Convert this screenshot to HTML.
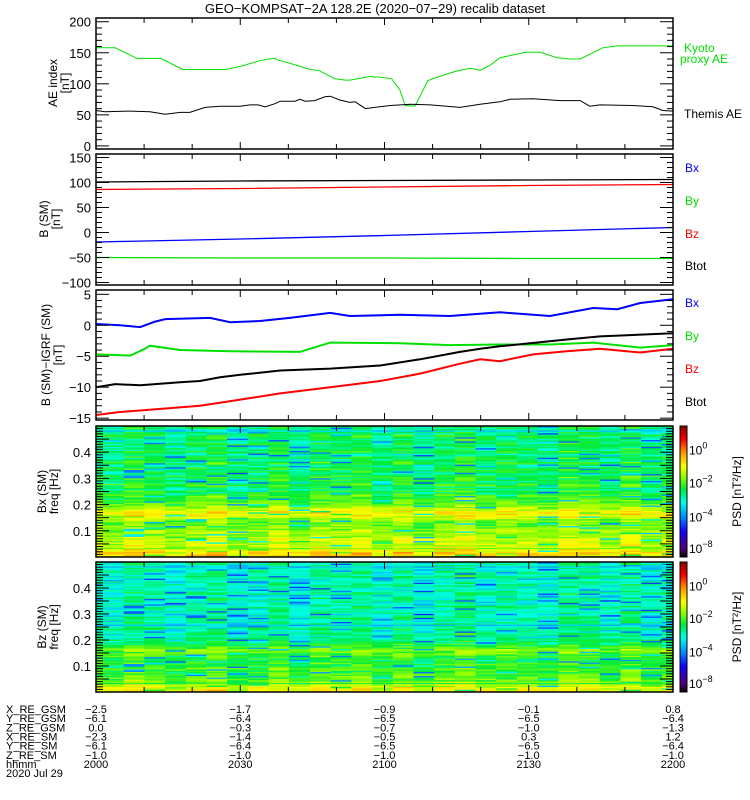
<!DOCTYPE html>
<html><head><meta charset="utf-8"><style>
html,body{margin:0;padding:0;background:#fff}
svg{display:block;font-family:"Liberation Sans",sans-serif}
</style></head><body>
<svg id="chart" width="750" height="800" viewBox="0 0 750 800" xmlns="http://www.w3.org/2000/svg">
<defs><clipPath id="plotclip"><rect x="96" y="0" width="577" height="800"/></clipPath></defs>
<rect width="750" height="800" fill="#fff"/>
<text x="375" y="13" text-anchor="middle" font-size="13">GEO−KOMPSAT−2A 128.2E (2020−07−29) recalib dataset</text>
<g id="layer"></g>
</svg>
<script>
// ---- data ----
const aeKyotoT = [0,4,8.5,13.5,18,27,30,34,36,37,38,42.5,44.5,46.5,49.7,51.8,52.8,55,57,58,59,61.5,63.2,64.3,66.3,67.4,69,71.5,74.7,77.8,79.9,82,84,89.6,92.3,95.9,98.6,100.7,105.4,108.4,120];
const aeKyotoV = [158,158,141,141,123,123,128,137,140,141,138,128,123,121,108,106,106,109,112,111,111,108,90,65,64,80,105,112,120,125,122,130,142,151,151,142,140,140,158,161,161];
const aeThemisT = [0,1.9,7.1,11.2,14.4,17.5,19.5,22.7,25.8,30,32,33.7,35.2,37.2,38.3,41.4,42.4,43.5,45.5,47.6,48.7,50.7,52.8,53.9,56,58,61.2,65.4,69.5,75.7,79.9,84,86.1,90.9,96.5,100.7,102.7,104.8,111.6,115.8,117.9,120];
const aeThemisV = [57,55,56,55,51,54,54,62,64,64,66,66,63,68,72,72,75,72,73,79,80,74,70,71,60,62,65,67,66,62,67,71,75,76,73,73,64,66,65,63,57,56];
const bT = [0,30,60,90,120];
const bTot = [101,103,104,105,106];
const bRed = [86,88,91,94,96];
const bBlue = [-19,-13,-6,2,10];
const bGreen = [-50,-51,-51,-52,-52];
const dBlueT = [0,5,9.2,12.3,14.4,23.7,27.9,34.1,40.3,48.7,52.8,63.2,73.6,84,94.4,103.4,108.4,113.2,120];
const dBlueV = [0.2,0,-0.3,0.6,1.0,1.2,0.5,0.7,1.2,2.0,1.5,1.7,1.5,2.1,1.5,2.8,2.6,3.6,4.2];
const dGreenT = [0,7.1,10.2,11.2,17.5,27.9,42.4,48.7,63.2,73.6,84,94.4,103.4,113.2,120];
const dGreenV = [-4.7,-4.9,-3.8,-3.3,-4.0,-4.2,-4.3,-2.8,-2.9,-3.2,-3.1,-3.1,-2.8,-3.6,-3.2];
const dBlackT = [0,4,9.2,17.5,21.6,25.8,30,38.3,48.7,59.1,67.4,75.7,79.9,84,97.9,104.8,120];
const dBlackV = [-10,-9.5,-9.7,-9.2,-9.0,-8.4,-8.0,-7.3,-7.0,-6.5,-5.5,-4.3,-3.8,-3.4,-2.3,-1.8,-1.3];
const dRedT = [0,5,13.5,21.6,30,38.3,48.7,59.1,67.4,75.7,79.9,84,90.9,97.9,104.8,113.2,120];
const dRedV = [-14.5,-14,-13.5,-13,-12,-11,-10,-9,-7.8,-6.2,-5.5,-5.8,-4.7,-4.2,-3.8,-4.4,-3.8];
const bxProfile = [-0.8,-0.7,-1.0,-1.2,-1.3,-1.4,-1.3,-1.5,-1.6,-1.5,-1.7,-1.8,-1.9,-1.7,-1.3,-1.0,-0.9,-1.3,-1.6,-1.9,-2.0,-2.2,-2.1,-2.4,-2.3,-2.5,-2.2,-2.6,-2.4,-2.3,-2.7,-2.5,-2.4,-2.8,-2.3,-2.6,-2.5,-2.9,-2.4,-2.6,-2.7,-2.5,-2.8,-2.6,-2.4,-2.7,-2.9,-2.6];
const bzProfile = [-1.0,-1.1,-1.4,-1.7,-1.9,-2.0,-2.1,-2.2,-2.0,-2.3,-2.2,-2.4,-2.3,-2.1,-1.9,-1.7,-2.0,-2.4,-2.6,-2.7,-2.9,-2.8,-3.0,-2.7,-3.1,-2.9,-3.0,-2.8,-3.2,-2.9,-3.0,-2.8,-3.1,-3.0,-2.9,-3.2,-2.8,-3.0,-3.1,-2.9,-3.0,-3.2,-2.8,-3.0,-2.9,-3.1,-3.0,-2.9];
const colOffset = [0.1,-0.1,0.2,0,-0.2,0.1,0.3,-0.1,0,0.2,-0.3,0.1,0,0.2,-0.1,0.1,-0.2,0,0.3,-0.1,0.1,0,-0.2,0.2,0.1,-0.1,0.3,0,0.1];
const texture = [0,0.3,-0.4,0.2,-0.2,-1.8,0.1,-0.5,0.4,0,-0.3,0.2,-0.6,0.1,0.3,-0.1,0.2,-0.4,0,0.5,-0.2,-1.2,0.1,-0.3,0.2,0,-0.5,0.3,-0.1,0.2,0,-0.3,0.4,-2.0,-0.2,0.1,0.2,-0.1,0.3,0,-0.4,0.2,0.1];
const posRows = ['X_RE_GSM','Y_RE_GSM','Z_RE_GSM','X_RE_SM','Y_RE_SM','Z_RE_SM','hhmm'];
const posVals = [['−2.5','−1.7','−0.9','−0.1','0.8'],['−6.1','−6.4','−6.5','−6.5','−6.4'],['0.0','−0.3','−0.7','−1.0','−1.3'],['−2.3','−1.4','−0.5','0.3','1.2'],['−6.1','−6.4','−6.5','−6.5','−6.4'],['−1.0','−1.0','−1.0','−1.0','−1.0'],['2000','2030','2100','2130','2200']];

// ---- helpers ----
const NS='http://www.w3.org/2000/svg';
const layer=document.getElementById('layer');
function mk(tag,attrs,parent){const e=document.createElementNS(NS,tag);for(const k in attrs)e.setAttribute(k,attrs[k]);(parent||layer).appendChild(e);return e;}
const X0=96,X1=673;
const xs=t=>X0+t/120*(X1-X0);
function ys(top,bot,lo,hi){return v=>bot-(v-lo)/(hi-lo)*(bot-top);}

function frame(top,bot,name){
  const r=mk('rect',{x:X0,y:top,width:X1-X0,height:bot-top,fill:'none',stroke:'#000','stroke-width':1.5});
  
  
  for(let t=10;t<120;t+=10){
    const L=(t%30===0)?7:5;
    mk('line',{x1:xs(t),x2:xs(t),y1:top,y2:top+L,stroke:'#000'});
    mk('line',{x1:xs(t),x2:xs(t),y1:bot,y2:bot-L,stroke:'#000'});
  }
}
function yticks(y,lo,hi,minor,major,labelFmt,name){
  const g=mk('g',{});
  
  
  for(let v=lo;v<=hi+1e-9;v+=minor){
    const isM=Math.abs(v/major-Math.round(v/major))<1e-6;
    const L=isM?13:6;
    const yy=y(v);
    mk('line',{x1:X0,x2:X0+L,y1:yy,y2:yy,stroke:'#000'},g);
    mk('line',{x1:X1,x2:X1-L,y1:yy,y2:yy,stroke:'#000'},g);
    if(isM&&labelFmt){const tx=mk('text',{x:X0-5,y:yy+5,'text-anchor':'end','font-size':13},g);tx.textContent=labelFmt(v);}
  }
}
function line(T,V,y,color,w,name){
  const d=T.map((t,i)=>(i?'L':'M')+xs(t).toFixed(1)+','+y(V[i]).toFixed(1)).join('');
  const p=mk('path',{d:d,fill:'none',stroke:color,'stroke-width':w});
  
  
}
function ylab(x,y,lines,name,size){
  const t=mk('text',{transform:`translate(${x},${y}) rotate(-90)`,'text-anchor':'middle','font-size':size||12});
  
  
  lines.forEach((s,i)=>{const ts=mk('tspan',{x:0,dy:i?12:0},t);ts.textContent=s;});
}
function rlab(x,y,txt,color,name){
  const t=mk('text',{x:x,y:y,fill:color,'font-size':12});
  t.textContent=txt;
  
  
}
const minus=v=>String(v).replace('-','−');

// ---- panel 1: AE ----
const y1=ys(18,149,-5,206);
line(aeKyotoT,aeKyotoV,y1,'#00e000',1,'kyoto-ae-line');
line(aeThemisT,aeThemisV,y1,'#000',1,'themis-ae-line');
frame(18,149,'ae-panel');
yticks(y1,0,200,10,50,v=>v,'ae-y-axis');
ylab(57,83,['AE index','[nT]'],'ae-y-title');
rlab(684,52,'Kyoto','#00e000','legend-kyoto');
rlab(680,63,'proxy AE','#00e000','legend-proxy-ae');
rlab(684,118,'Themis AE','#000','legend-themis-ae');

// ---- panel 2: B SM ----
const y2=ys(154,285,-105,157);
line(bT,bTot,y2,'#000',1.3,'btot-line');
line(bT,bRed,y2,'#f00',1.3,'bz-line');
line(bT,bBlue,y2,'#00f',1.3,'bx-line');
line(bT,bGreen,y2,'#00e000',1.3,'by-line');
frame(154,285,'b-sm-panel');
yticks(y2,-100,150,10,50,v=>minus(v),'b-sm-y-axis');
ylab(48,219,['B (SM)','[nT]'],'b-sm-y-title');
rlab(685,172,'Bx','#00f','legend-bx');
rlab(685,205,'By','#00e000','legend-by');
rlab(685,238,'Bz','#f00','legend-bz');
rlab(685,270,'Btot','#000','legend-btot');

// ---- panel 3: B - IGRF ----
const y3=ys(290,420,-15.3,5.7);
line(dGreenT,dGreenV,y3,'#00e000',2,'dby-line');
line(dBlueT,dBlueV,y3,'#00f',2,'dbx-line');
line(dBlackT,dBlackV,y3,'#000',2,'dbtot-line');
line(dRedT,dRedV,y3,'#f00',2,'dbz-line');
frame(290,420,'b-igrf-panel');
yticks(y3,-15,5,1,5,v=>minus(v),'b-igrf-y-axis');
ylab(50,355,['B (SM)−IGRF (SM)','[nT]'],'b-igrf-y-title');
rlab(685,307,'Bx','#00f','legend-dbx');
rlab(685,340,'By','#00e000','legend-dby');
rlab(685,373,'Bz','#f00','legend-dbz');
rlab(685,406,'Btot','#000','legend-dbtot');

// ---- spectrograms ----
const stops=[[0,[0,0,0]],[0.07,[80,0,120]],[0.2,[20,0,255]],[0.31,[0,140,255]],[0.42,[0,255,230]],[0.52,[0,235,60]],[0.62,[150,255,0]],[0.7,[255,255,0]],[0.8,[255,150,0]],[0.9,[255,0,0]],[1,[140,0,0]]];
function cmap(v){v=Math.max(0,Math.min(1,v));for(let i=1;i<stops.length;i++){if(v<=stops[i][0]){const a=stops[i-1],b=stops[i];const f=(v-a[0])/(b[0]-a[0]);return 'rgb('+a[1].map((c,k)=>Math.round(c+(b[1][k]-c)*f)).join(',')+')';}}return 'rgb(140,0,0)';}
const vk=[-8,-4,-2,0],vv=[0.07,0.31,0.57,0.82];
function val2v(x){if(x<=vk[0])return vv[0]+(x-vk[0])*0.03;for(let i=1;i<vk.length;i++)if(x<=vk[i])return vv[i-1]+(x-vk[i-1])/(vk[i]-vk[i-1])*(vv[i]-vv[i-1]);return vv[3]+(x-vk[3])*0.09;}
function spec(top,bot,profile,name,title){
  const g=mk('g',{'clip-path':'url(#plotclip)'});
  
  
  const nC=colOffset.length,nR=profile.length*2;
  const cw=20.7,rh=(bot-top)/nR,x0=X0-13.7;
  for(let c=0;c<nC;c++){for(let r=0;r<nR;r++){
    const val=profile[r>>1]+colOffset[c]+texture[(r*r*7+c*13+r*c*5+r*3)%texture.length];
    mk('rect',{x:(x0+c*cw).toFixed(2),y:(bot-(r+1)*rh).toFixed(2),width:(cw+0.6).toFixed(2),height:(rh+0.4).toFixed(2),fill:cmap(val2v(val))},g);
  }}
  const y=ys(top,bot,0,0.5);
  for(let k=1;k<50;k++){const f=k/100;const L=(k%5===0)?13:7;const yy=y(f);mk('line',{x1:X0,x2:X0+L,y1:yy,y2:yy,stroke:'#000','stroke-width':1});mk('line',{x1:X1,x2:X1-L,y1:yy,y2:yy,stroke:'#000','stroke-width':1});}
  frame(top,bot,name);
  [0.1,0.2,0.3,0.4].forEach(f=>{const t=mk('text',{x:X0-5,y:y(f)+5,'text-anchor':'end','font-size':13});t.textContent=f.toFixed(1);});
  ylab(46,(top+bot)/2,[title,'freq [Hz]'],name+'-y-title');
  const cb=mk('g',{});
  
  
  const n=60,h=(bot-top)/n;
  for(let i=0;i<n;i++)mk('rect',{x:680,y:(bot-(i+1)*h).toFixed(2),width:7,height:(h+0.5).toFixed(2),fill:cmap((i+0.5)/n)},cb);
  mk('rect',{x:680,y:top,width:7,height:bot-top,fill:'none',stroke:'#000'},cb);
  [['0',0.82],['−2',0.57],['−4',0.31],['−8',0.07]].forEach(([e,v])=>{
    const yy=bot-v*(bot-top);
    const t=mk('text',{x:689,y:yy+5,'font-size':12},cb);
    t.textContent='10';
    const s=mk('tspan',{dy:-6,'font-size':9},t);s.textContent=e;
  });
  const lt=mk('text',{transform:`translate(741,${(top+bot)/2}) rotate(-90)`,'text-anchor':'middle','font-size':12},cb);
  lt.textContent='PSD [nT²/Hz]';
}
spec(426,557,bxProfile,'bx-spectrogram','Bx (SM)');
spec(562,692,bzProfile,'bz-spectrogram','Bz (SM)');

// ---- position table ----
const tg=mk('g',{'font-size':11});


const colX=[0,30,60,90,120].map(xs);
posRows.forEach((lab,i)=>{
  const yy=713+i*9.15;
  const t=mk('text',{x:6,y:yy},tg);t.textContent=lab;
  posVals[i].forEach((v,j)=>{const tv=mk('text',{x:colX[j],y:yy,'text-anchor':'middle'},tg);tv.textContent=v;});
});
const dt=mk('text',{x:6,y:713+7*9.15,'font-size':11},tg);dt.textContent='2020 Jul 29';
</script>
</body></html>
